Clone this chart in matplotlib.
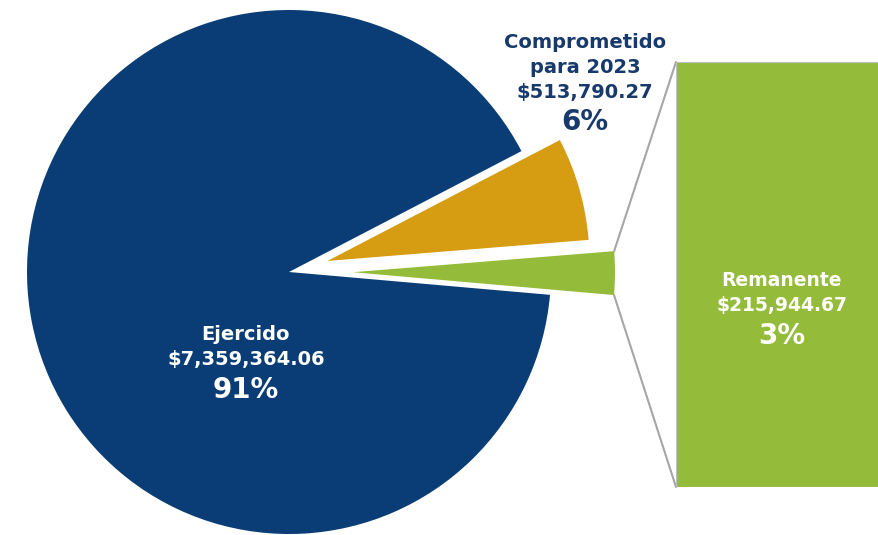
import numpy as np
import matplotlib.pyplot as plt
from matplotlib.patches import ConnectionPatch

# Presupuesto 2023
labels = ["Ejercido", "Comprometido\npara 2023", "Remanente"]
amounts = [7359364.06, 513790.27, 215944.67]
colors = ["#0A3D75", "#D69C12", "#94BC3A"]

NAVY_TEXT = "#17396B"
W, H = 879, 535

fig = plt.figure(figsize=(W / 100, H / 100), dpi=100)
ax = fig.add_axes([0, 0, 1, 1])

total = sum(amounts)
pcts = [round(a / total * 100) for a in amounts]

# pie in pixel units (y up); explode offsets are in the same units
cx, cy, r = 289, H - 272, 262
wedges, _ = ax.pie(
    amounts,
    colors=colors,
    explode=[0, 40, 64],
    startangle=-5,
    counterclock=False,
    center=(cx, cy),
    radius=r,
    wedgeprops=dict(linewidth=0),
)
ax.set_xlim(0, W)
ax.set_ylim(0, H)
ax.set_aspect("equal")
ax.axis("off")
ax.set_zorder(2)

# bar that breaks out the remaining amount
bx = fig.add_axes([676 / W, (H - 487) / H, (W - 676) / W, (487 - 62) / H])
bx.bar(0, amounts[2], width=1, color=colors[2], edgecolor="#BFBFBF", linewidth=0.8)
bx.set_xlim(-0.5, 0.5)
bx.set_ylim(0, amounts[2])
bx.axis("off")
bx.set_zorder(1)

# grey connectors from the small wedge to the bar
g = wedges[2]
gx, gy = g.center
for ang, corner in [(g.theta1, (0, 0)), (g.theta2, (0, 1))]:
    px = gx + g.r * np.cos(np.radians(ang))
    py = gy + g.r * np.sin(np.radians(ang))
    con = ConnectionPatch(xyA=(px, py), coordsA="data", axesA=ax,
                          xyB=corner, coordsB="axes fraction", axesB=bx,
                          color="#A6A6A6", linewidth=1.5)
    fig.add_artist(con)


def money(v):
    return f"${v:,.2f}"


def block(x, ys, lines, color, sizes):
    for y, line, s in zip(ys, lines, sizes):
        ax.text(x, H - y, line, ha="center", va="center", color=color,
                fontsize=s, fontweight="bold", family="DejaVu Sans")


block(246, [334, 359, 390],
      [labels[0], money(amounts[0]), f"{pcts[0]}%"], "white", [14, 14, 20])
name1, name2 = labels[1].split("\n")
block(585, [42, 67, 92, 122],
      [name1, name2, money(amounts[1]), f"{pcts[1]}%"], NAVY_TEXT, [14, 14, 14, 20])
block(782, [281, 306, 336],
      [labels[2], money(amounts[2]), f"{pcts[2]}%"], "white", [13.5, 13.5, 20])

fig.savefig("out.png", dpi=100)
